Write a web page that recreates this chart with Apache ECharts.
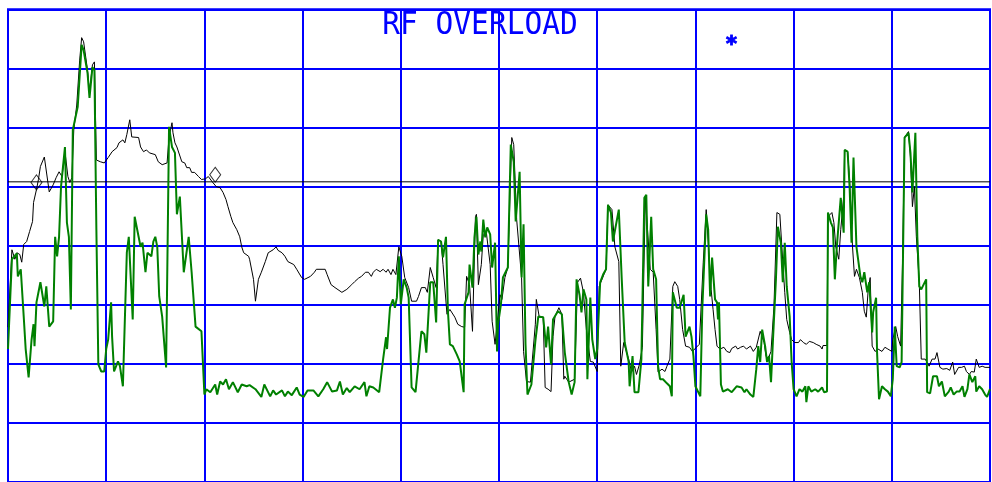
<!DOCTYPE html>
<html>
<head>
<meta charset="utf-8">
<script src="https://cdn.jsdelivr.net/npm/echarts@6/dist/echarts.min.js"></script>
<style>
  html, body { margin: 0; padding: 0; background: #ffffff; }
  #chart { width: 992px; height: 482px; }
</style>
</head>
<body>
<div id="chart"></div>
<script>
// Frequency span: 0..1000 (10 divisions), amplitude: 0..80 (8 divisions of 10)
const xDivisions = [0, 1000, 100];
const yDivisions = [0, 80, 10];

const titleText = 'RF OVERLOAD';
const markText = '*';

// Reference level line
const refLevel = 50.8;

// Diamond markers on the black trace
const markerPoints = [[29, 50.7], [211, 52.0]];

// Black trace (thin)
const traceBlack = [
  [0,26.2],[4,39.3],[7,37.7],[9,38.8],[12,38.5],[14,37.2],[16,40.2],[19,40.7],[22,42.4],[25,44.1],
  [26,47.3],[29,49.5],[31,51.2],[33,53.4],[35,53.7],[37,55.0],[39,54.9],[42,49.1],[46,50.3],[49,51.5],
  [52,52.5],[55,51.7],[58,55.9],[61,51.7],[63,50.7],[65,51.5],[67,59.6],[70,63.8],[73,71.4],[75,75.2],
  [77,74.5],[81,69.7],[83,66.0],[86,70.6],[88,71.1],[90,54.5],[94,54.2],[98,54.0],[102,54.9],[106,55.9],
  [111,56.6],[113,57.4],[117,57.9],[119,57.4],[121,58.8],[124,61.3],[126,58.4],[128,58.1],[133,58.3],[135,56.7],
  [138,55.9],[141,56.2],[144,55.7],[146,55.9],[150,55.4],[153,54.2],[157,53.7],[159,53.4],[162,54.0],[164,58.4],
  [167,60.8],[168,59.1],[170,57.4],[172,56.7],[174,56.6],[177,54.2],[180,54.0],[182,53.2],[185,53.2],[187,52.4],
  [190,52.4],[194,51.7],[197,51.2],[201,51.3],[204,51.7],[208,50.8],[212,50.0],[216,49.8],[219,49.0],[222,47.8],
  [224,46.6],[227,44.9],[229,43.9],[233,42.7],[236,41.5],[238,39.8],[240,38.8],[245,38.2],[246,37.7],[250,34.3],
  [252,30.6],[255,34.3],[258,35.5],[262,37.3],[265,38.8],[270,39.3],[273,39.8],[275,39.2],[279,38.8],[282,38.2],
  [285,37.3],[291,36.8],[294,36.0],[299,34.6],[302,34.3],[308,34.8],[312,35.5],[314,36.0],[323,36.0],[325,35.1],
  [329,33.4],[333,32.9],[340,32.1],[345,32.6],[350,33.4],[353,33.9],[357,34.5],[360,34.8],[364,35.5],[367,35.5],
  [370,34.8],[372,35.5],[375,36.0],[379,35.6],[382,36.0],[385,35.5],[387,36.0],[390,35.1],[392,36.0],[395,35.1],
  [398,39.8],[401,38.2],[404,34.6],[408,32.9],[411,30.6],[416,30.6],[418,31.4],[421,32.9],[425,32.9],[427,32.1],
  [430,36.3],[433,34.6],[436,32.9],[438,41.0],[441,40.7],[443,36.8],[447,28.4],[450,29.2],[452,28.9],[455,27.9],
  [458,26.7],[462,26.3],[465,26.2],[467,34.8],[470,33.4],[473,25.5],[476,44.9],[477,45.3],[479,33.4],[482,36.8],
  [484,41.9],[487,42.4],[491,36.8],[493,27.2],[496,23.3],[498,23.6],[501,31.7],[503,30.9],[506,34.6],[509,36.3],
  [513,58.3],[515,57.1],[518,44.4],[520,44.1],[523,34.6],[525,22.1],[528,17.0],[532,16.9],[534,17.0],[537,26.7],
  [538,30.9],[541,27.9],[545,27.9],[547,16.0],[550,15.7],[553,15.3],[555,24.6],[557,28.0],[561,29.5],[564,28.4],
  [566,17.4],[567,17.9],[571,16.9],[577,17.4],[580,33.8],[583,34.5],[586,32.1],[589,25.8],[593,20.4],[596,20.3],
  [600,18.7],[602,33.1],[609,36.0],[611,46.9],[615,46.1],[618,39.8],[622,37.3],[624,19.6],[627,23.6],[629,23.8],
  [632,20.8],[635,18.6],[638,19.6],[640,18.2],[643,19.9],[646,22.8],[649,48.1],[651,48.1],[654,36.0],[657,35.5],
  [660,25.8],[662,18.6],[666,19.1],[669,18.7],[671,19.6],[674,20.8],[677,33.1],[679,33.9],[682,33.1],[684,30.9],
  [687,25.8],[690,23.0],[694,22.8],[697,22.1],[701,22.8],[704,23.3],[708,37.2],[711,46.1],[713,46.4],[716,32.6],
  [718,29.2],[720,25.8],[722,23.0],[725,22.5],[729,22.8],[732,22.1],[735,21.9],[737,22.6],[741,23.0],[743,22.5],
  [746,22.8],[749,23.0],[752,22.5],[756,23.0],[759,22.1],[762,22.8],[766,25.5],[767,25.8],[770,23.6],[772,21.3],
  [774,20.8],[777,22.1],[780,29.7],[783,45.6],[786,45.3],[789,37.2],[791,32.1],[793,27.5],[796,25.3],[798,24.1],
  [801,23.6],[805,23.6],[807,24.1],[810,23.6],[813,23.3],[816,23.8],[820,23.6],[823,23.3],[827,23.0],[829,22.5],
  [830,23.1],[834,23.1],[835,44.9],[839,45.6],[841,43.9],[843,39.8],[846,37.7],[848,42.7],[851,48.3],[852,56.2],
  [855,55.9],[857,51.2],[860,39.8],[862,34.8],[864,36.0],[867,34.6],[870,32.1],[872,28.9],[874,27.9],[876,32.6],
  [878,34.6],[880,23.0],[883,22.1],[886,22.5],[890,22.1],[893,22.8],[896,22.5],[900,22.1],[901,24.1],[904,26.3],
  [906,24.6],[909,23.0],[911,37.7],[913,58.3],[917,59.3],[919,55.0],[921,46.6],[923,50.0],[925,41.5],[928,33.8],
  [930,20.8],[934,20.8],[936,21.1],[938,19.6],[941,20.8],[944,20.8],[946,21.9],[949,19.4],[952,19.1],[956,19.2],
  [959,18.9],[962,20.3],[964,18.2],[968,19.4],[971,19.4],[974,19.6],[976,18.7],[979,18.2],[981,18.7],[984,18.6],
  [986,20.8],[989,19.4],[992,19.6],[995,19.4],[997,19.6],[1000,19.4]
];

// Green trace (thick)
const traceGreen = [
  [0,22.5],[4,37.7],[9,38.7],[10,34.8],[13,36.0],[16,28.0],[18,22.5],[21,17.7],[24,24.1],[26,26.7],
  [27,23.0],[29,30.4],[33,33.8],[37,29.7],[39,33.1],[42,26.3],[46,27.2],[48,41.5],[50,38.2],[52,41.5],
  [54,50.0],[58,56.7],[60,43.9],[62,41.5],[64,29.2],[66,59.6],[71,63.5],[75,74.0],[77,73.1],[81,69.2],
  [83,65.0],[86,70.2],[88,69.7],[90,42.7],[92,19.9],[95,18.7],[98,18.7],[100,22.5],[102,24.1],[105,30.4],
  [106,24.6],[108,18.7],[112,20.4],[114,19.6],[117,16.2],[121,38.8],[123,41.5],[127,27.5],[129,44.9],[133,41.5],
  [135,39.8],[137,40.5],[140,35.5],[142,38.8],[146,38.2],[148,40.7],[150,41.5],[152,39.8],[154,31.4],[157,28.0],
  [161,19.4],[164,60.1],[167,56.7],[170,55.7],[172,45.3],[175,48.3],[179,35.5],[184,41.5],[187,35.5],[191,26.3],
  [197,25.5],[200,14.8],[202,15.7],[206,15.2],[211,16.5],[213,14.8],[216,17.0],[219,16.5],[222,17.4],[225,15.7],
  [229,16.9],[234,15.2],[238,16.5],[243,16.2],[246,16.4],[252,15.7],[258,14.4],[261,16.5],[267,14.5],[270,15.5],
  [273,14.8],[279,15.5],[282,14.5],[285,15.3],[289,14.7],[294,16.0],[297,14.8],[301,14.4],[305,15.5],[311,15.5],
  [316,14.5],[321,15.7],[325,16.9],[330,15.3],[335,15.5],[338,17.0],[341,14.8],[345,15.9],[348,15.2],[353,16.2],
  [358,15.7],[363,16.9],[365,14.5],[368,16.2],[372,16.0],[378,15.2],[382,20.8],[385,24.5],[386,22.5],[389,29.5],
  [392,30.9],[394,29.5],[396,31.2],[398,38.2],[400,30.1],[403,34.3],[406,32.9],[408,31.2],[411,16.0],[415,15.2],
  [421,25.5],[424,25.0],[426,21.9],[430,33.8],[433,33.8],[436,27.0],[438,41.0],[441,40.7],[443,38.0],[446,41.5],
  [448,28.9],[450,23.3],[453,23.0],[457,21.6],[460,20.4],[464,15.2],[465,30.1],[469,32.1],[470,36.8],[473,32.9],
  [475,41.4],[477,44.9],[479,38.5],[481,40.7],[482,39.0],[484,44.4],[486,41.4],[488,43.1],[491,41.9],[493,36.3],
  [496,40.5],[498,22.1],[499,26.7],[502,30.1],[504,34.6],[509,36.3],[512,57.1],[515,54.2],[517,44.1],[521,52.5],
  [523,34.6],[525,43.6],[527,23.3],[529,14.8],[533,16.5],[537,23.8],[540,28.0],[545,27.9],[548,22.8],[550,26.3],
  [553,19.9],[555,27.5],[560,28.9],[564,28.4],[567,21.9],[571,16.9],[574,14.8],[577,16.9],[579,34.3],[582,31.7],
  [584,28.7],[586,32.6],[589,30.9],[590,17.4],[593,31.2],[595,24.1],[598,20.8],[600,22.5],[603,33.8],[606,35.1],
  [609,36.0],[611,46.9],[614,45.6],[616,40.7],[622,46.1],[625,34.3],[628,23.6],[632,20.4],[633,16.2],[636,21.3],
  [638,15.2],[642,15.2],[645,20.8],[648,48.1],[650,48.6],[652,33.1],[655,44.9],[657,36.0],[660,34.3],[662,19.6],
  [664,17.4],[667,17.4],[671,16.7],[674,16.2],[676,14.5],[677,32.1],[681,29.5],[684,29.5],[688,31.7],[690,24.6],
  [694,26.3],[696,24.6],[698,21.3],[700,16.2],[702,16.0],[705,14.5],[707,29.2],[711,45.3],[713,42.7],[715,31.4],
  [717,38.0],[720,30.9],[722,30.4],[723,27.5],[724,30.4],[726,16.5],[728,15.3],[733,15.7],[737,15.2],[742,16.2],
  [747,16.0],[750,15.2],[752,15.7],[756,14.8],[759,14.4],[762,19.1],[764,23.0],[766,20.3],[768,25.8],[771,23.0],
  [773,20.3],[775,21.3],[777,16.9],[779,24.1],[782,34.3],[784,43.2],[787,40.5],[789,33.8],[791,40.5],[793,33.1],
  [796,28.0],[798,20.3],[800,15.7],[803,14.5],[806,15.7],[809,15.3],[812,16.2],[813,13.5],[815,16.2],[818,15.3],
  [822,15.7],[825,15.3],[829,16.0],[831,15.2],[834,15.3],[835,45.6],[838,43.9],[840,43.1],[842,34.3],[844,39.8],
  [848,48.1],[851,42.2],[852,56.2],[855,55.9],[857,50.0],[859,40.5],[861,54.9],[864,39.8],[868,34.8],[870,33.8],
  [872,35.5],[875,32.1],[877,33.8],[880,25.3],[881,28.7],[884,31.2],[885,21.9],[887,14.0],[890,16.2],[893,15.7],
  [896,15.3],[899,14.5],[901,17.4],[903,26.3],[905,19.6],[908,19.4],[910,20.3],[913,58.3],[917,59.1],[919,55.7],
  [921,49.0],[924,59.1],[926,41.5],[928,33.1],[930,32.6],[935,34.3],[936,15.2],[939,15.0],[942,17.9],[946,17.9],
  [948,16.2],[951,17.0],[954,14.5],[958,15.3],[960,16.0],[963,14.8],[966,15.3],[969,15.3],[972,16.2],[974,14.4],
  [977,15.7],[979,18.2],[982,16.9],[985,17.9],[986,15.3],[989,16.2],[992,15.7],[995,14.8],[997,14.4],[1000,15.7]
];

const chart = echarts.init(document.getElementById('chart'), null, { renderer: 'canvas' });

const gridLine = { show: true, lineStyle: { color: '#0000ff', width: 2, type: 'solid' } };

chart.setOption({
  animation: false,
  backgroundColor: '#ffffff',
  grid: {
    left: 8, top: 9.3, width: 982, height: 473.6,
    show: true, borderColor: '#0000ff', borderWidth: 2, backgroundColor: 'transparent'
  },
  xAxis: {
    type: 'value', min: xDivisions[0], max: xDivisions[1], interval: xDivisions[2],
    axisLine: { show: false }, axisTick: { show: false }, axisLabel: { show: false },
    splitLine: gridLine
  },
  yAxis: {
    type: 'value', min: yDivisions[0], max: yDivisions[1], interval: yDivisions[2],
    axisLine: { show: false }, axisTick: { show: false }, axisLabel: { show: false },
    splitLine: gridLine
  },
  graphic: [
    {
      type: 'text', x: 480, y: 10, scaleY: 1.07, z: 100,
      style: {
        text: titleText, fill: '#0000ff', align: 'center', verticalAlign: 'top',
        font: 'normal 29.5px "DejaVu Sans Mono", monospace'
      }
    },
    {
      type: 'text', x: 731.5, y: 35, z: 100,
      style: {
        text: markText, fill: '#0000ff', stroke: '#0000ff', lineWidth: 1,
        align: 'center', verticalAlign: 'top',
        font: 'bold 21px "DejaVu Sans", sans-serif'
      }
    }
  ],
  series: [
    {
      name: 'ref', type: 'line', data: [[xDivisions[0], refLevel], [xDivisions[1], refLevel]],
      showSymbol: false, silent: true, z: 3,
      lineStyle: { color: '#000000', width: 1 }
    },
    {
      name: 'black', type: 'line', data: traceBlack, showSymbol: false, silent: true, z: 4,
      lineStyle: { color: '#000000', width: 1 }
    },
    {
      name: 'green', type: 'line', data: traceGreen, showSymbol: false, silent: true, z: 5,
      lineStyle: { color: '#008000', width: 2 }
    },
    {
      name: 'markers', type: 'scatter', data: markerPoints, symbol: 'diamond', symbolSize: [11, 15],
      silent: true, z: 6,
      itemStyle: { color: 'rgba(255,255,255,0)', borderColor: '#000000', borderWidth: 1 }
    }
  ]
});
</script>
</body>
</html>
